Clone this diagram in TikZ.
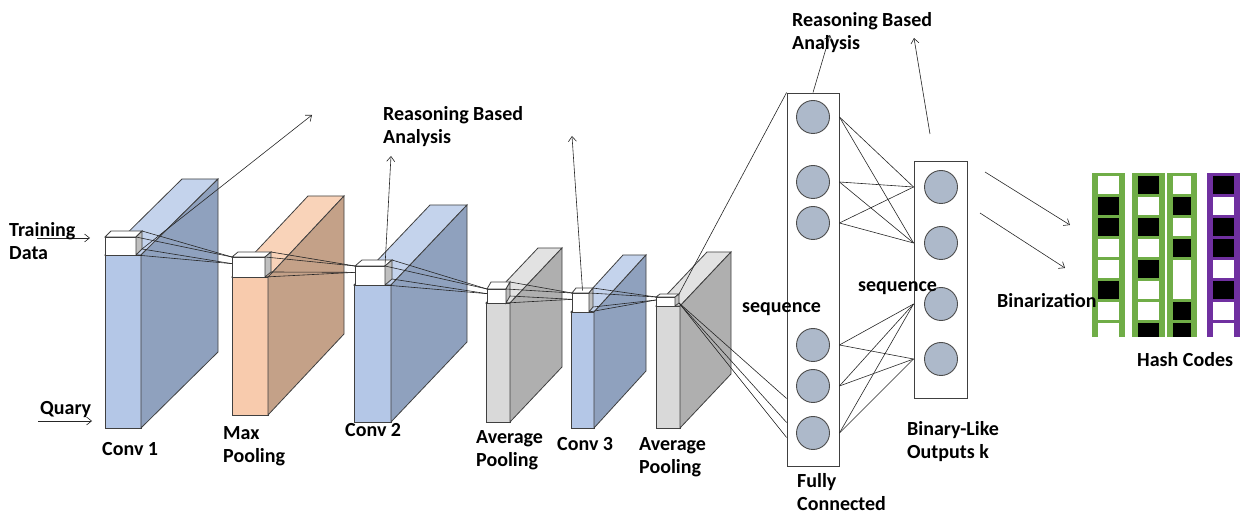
\documentclass[tikz,border=0pt]{standalone}
\usepackage{fontspec}
\setmainfont{Carlito}
\usetikzlibrary{calc,arrows.meta}

\definecolor{bluefront}{RGB}{180,199,231}
\definecolor{bluetop}{RGB}{196,211,236}
\definecolor{blueside}{RGB}{143,161,190}
\definecolor{orangefront}{RGB}{248,203,173}
\definecolor{orangetop}{RGB}{249,211,185}
\definecolor{orangeside}{RGB}{196,161,136}
\definecolor{grayfront}{RGB}{217,217,217}
\definecolor{graytop}{RGB}{226,226,226}
\definecolor{grayside}{RGB}{175,175,175}
\definecolor{cubeside}{RGB}{191,191,191}
\definecolor{neurongray}{RGB}{173,185,202}
\definecolor{hashgreen}{RGB}{112,173,71}
\definecolor{hashpurple}{RGB}{112,48,160}

\tikzset{
  facet/.style={draw=black!75, line width=0.8pt},
  wire/.style={draw=black!85, line width=0.6pt},
  pointer/.style={wire, -{Straight Barb[length=5pt,width=8pt]}},
  neuron/.style={circle, draw=black!70, fill=neurongray, line width=0.9pt, minimum size=33pt, inner sep=0pt},
  column/.style={draw=black!75, line width=0.9pt, inner sep=0pt},
  lbl/.style={font=\bfseries\fontsize{20}{23}\selectfont, inner sep=0pt, anchor=base west, align=left},
}

% slab: x, front top, width, front bottom, dx, dy, colour
\newcommand{\slab}[7]{%
  \filldraw[facet, fill=#7front] (#1,#2) rectangle ({#1+#3},#4);
  \filldraw[facet, fill=#7top] (#1,#2) -- ++(#5,#6) -- ++(#3,0) -- ({#1+#3},#2) -- cycle;
  \filldraw[facet, fill=#7side] ({#1+#3},#2) -- ++(#5,#6) -- ({#1+#3+#5},{#4+#6}) -- ({#1+#3},#4) -- cycle;
}
% cube: name, x, front top, width, height, dx, dy
\newcommand{\kernelcube}[7]{%
  \filldraw[facet, fill=white] (#2,#3) rectangle ({#2+#4},{#3+#5});
  \filldraw[facet, fill=white] (#2,#3) -- ++(#6,#7) -- ++(#4,0) -- ({#2+#4},#3) -- cycle;
  \filldraw[facet, fill=cubeside] ({#2+#4},#3) -- ++(#6,#7) -- ++(0,#5) -- ({#2+#4},{#3+#5}) -- cycle;
  \coordinate (#1-ftl) at (#2,#3);
  \coordinate (#1-ftr) at ({#2+#4},#3);
  \coordinate (#1-fbr) at ({#2+#4},{#3+#5});
  \coordinate (#1-btr) at ({#2+#4+#6},{#3+#7});
  \coordinate (#1-bbr) at ({#2+#4+#6},{#3+#5+#7});
  \coordinate (#1-in) at (#2,{#3+#5/3});
  \coordinate (#1-top) at ({#2+#4/2+#6/2},{#3+#7/2});
}
% hash column: x, width, border colour, cells row/colour/span
\newcommand{\hashcol}[4]{%
  \fill[#3] (#1,173) rectangle ({#1+#2},337);
  \foreach \r/\c/\n in {#4}
    \fill[\c] ({#1+6},{176+21*\r}) rectangle ({#1+#2-6},{min(337,176+21*\r+21*\n-3)});
}

\begin{document}
\begin{tikzpicture}[x=1pt, y=-1pt]
  \useasboundingbox (0,0) rectangle (1240,518);

  % feature maps
  \slab{105}{255}{36}{428}{77}{-76}{blue}
  \slab{232}{277}{36}{415}{76}{-81}{orange}
  \slab{354}{285}{37}{422}{76}{-80}{blue}
  \slab{486}{303}{24}{422}{52}{-55}{gray}
  \slab{571}{312}{23}{428}{52}{-57}{blue}
  \slab{656}{306}{24}{428}{51}{-54}{gray}

  % kernels
  \kernelcube{conv1}{105}{237}{31}{18}{6}{-6}
  \kernelcube{maxp}{232}{257}{33}{20}{6}{-5}
  \kernelcube{conv2}{355}{266}{30}{19}{7}{-6}
  \kernelcube{avg1}{487}{289}{19}{14}{4}{-7}
  \kernelcube{conv3}{572}{293}{17}{19}{4}{-5}
  \kernelcube{avg2}{656}{297}{19}{9}{4}{-3}

  \foreach \a/\b in {conv1/maxp, maxp/conv2, conv2/avg1, avg1/conv3, conv3/avg2}{
    \draw[wire] (\a-btr) -- (\b-ftl);
    \draw[wire] (\a-ftr) -- (\b-ftl);
    \draw[wire] (\a-bbr) -- (\b-in);
    \draw[wire] (\a-fbr) -- (\b-in);
  }

  % fully connected and binary-like layers
  \node[column, minimum width=52pt, minimum height=373pt] (fcbox) at (813,279.5) {};
  \node[column, minimum width=53pt, minimum height=237pt] (bibox) at (940.5,279.5) {};
  \foreach \i/\y in {1/117, 2/182, 3/223, 4/345, 5/386, 6/433}
    \node[neuron] (fc\i) at (813,\y) {};
  \foreach \i/\y in {1/187, 2/243, 3/304, 4/359}
    \node[neuron] (bi\i) at (941,\y) {};

  \foreach \i in {1,2,3}
    \foreach \j in {1,2}
      \draw[wire] (fc\i -| fcbox.east) -- (bi\j -| bibox.west);
  \foreach \i in {4,5,6}
    \foreach \j in {3,4}
      \draw[wire] (fc\i -| fcbox.east) -- (bi\j -| bibox.west);

  \draw[wire] (avg2-btr) -- (fcbox.north west);
  \foreach \s in {68,44,29}
    \draw[wire] (avg2-bbr) -- ([yshift=\s pt]fcbox.south west);

  % analysis arrows
  \coordinate (rba1) at (312,115);
  \coordinate (rba2) at (391,156);
  \coordinate (rba3) at (572,136);
  \coordinate (rba4) at (830,35);
  \coordinate (bitail) at (930,134);
  \coordinate (rba5) at (914,38);
  \draw[pointer] (conv1-bbr) -- (rba1);
  \draw[pointer] (conv2-ftr) -- (rba2);
  \draw[pointer] (conv3-top) -- (rba3);
  \draw[pointer] (fcbox.north) -- (rba4);
  \draw[pointer] (bitail) -- (rba5);

  % hash codes
  \hashcol{1092}{33}{hashgreen}{0/white/1,1/black/1,2/black/1,3/white/1,4/white/1,5/black/1,6/white/1,7/white/1}
  \hashcol{1132}{33}{hashgreen}{0/black/1,1/white/1,2/black/1,3/white/1,4/black/1,5/white/1,6/white/1,7/black/1}
  \hashcol{1167}{30}{hashgreen}{0/white/1,1/black/1,2/white/1,3/black/1,4/white/2,6/black/1,7/black/1}
  \hashcol{1207}{33}{hashpurple}{0/black/1,1/white/1,2/black/1,3/black/1,4/white/1,5/black/1,6/white/1,7/white/1}

  \coordinate (bin1a) at (985,172);
  \coordinate (bin1b) at (1070,225);
  \coordinate (bin2a) at (980,213);
  \coordinate (bin2b) at (1065,268);
  \draw[pointer] (bin1a) -- (bin1b);
  \draw[pointer] (bin2a) -- (bin2b);

  % inputs
  \coordinate (traina) at (37,238);
  \coordinate (trainb) at (90,238);
  \coordinate (querya) at (38,421);
  \coordinate (queryb) at (92,421);
  \draw[pointer] (traina) -- (trainb);
  \draw[pointer] (querya) -- (queryb);

  % labels (base = last line)
  \node[lbl] (ltrain) at (9,260) {Training\\Data};
  \node[lbl] (lquery) at (40,415) {Quary};
  \node[lbl] (lconv1) at (102,456) {Conv 1};
  \node[lbl] (lmaxp) at (223,463) {Max\\Pooling};
  \node[lbl] (lconv2) at (345,437) {Conv 2};
  \node[lbl] (lavg1) at (476,467) {Average\\Pooling};
  \node[lbl] (lconv3) at (557,451) {Conv 3};
  \node[lbl] (lavg2) at (639,474) {Average\\Pooling};
  \node[lbl] (lrba2) at (383,144) {Reasoning Based\\Analysis};
  \node[lbl] (lrba4) at (792,50) {Reasoning Based\\Analysis};
  \node[lbl] (lseq1) at (742,313) {sequence};
  \node[lbl] (lseq2) at (858,292) {sequence};
  \node[lbl] (lfc) at (797,510) {Fully\\Connected};
  \node[lbl] (lbi) at (907,458) {Binary-Like\\Outputs k};
  \node[lbl] (lbin) at (997,308) {Binarization};
  \node[lbl] (lhash) at (1137,367) {Hash Codes};
\end{tikzpicture}
\end{document}
